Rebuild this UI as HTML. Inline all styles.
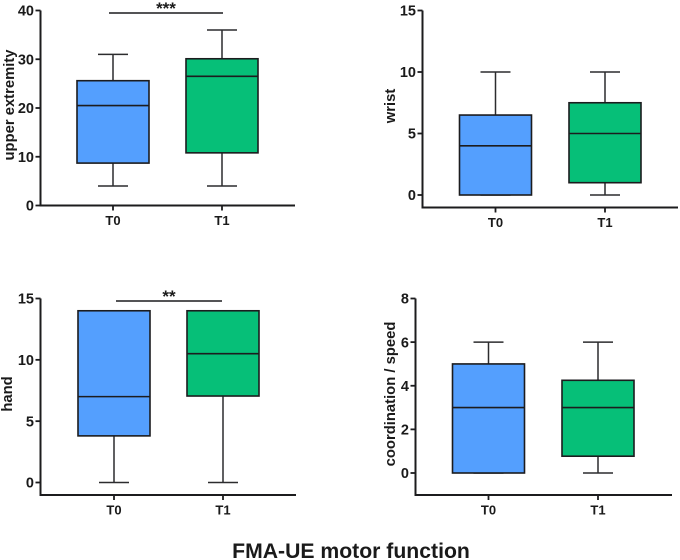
<!DOCTYPE html>
<html lang="en">
<head>
<meta charset="utf-8">
<title>FMA-UE motor function</title>
<style>
html,body{margin:0;padding:0;background:#fff;width:680px;height:560px;overflow:hidden}
svg{display:block;filter:blur(0.35px)}
text{font-family:"Liberation Sans",sans-serif;font-weight:bold;fill:#1a1a1a}
</style>
</head>
<body>
<svg id="chart" width="680" height="560" viewBox="0 0 680 560" xmlns="http://www.w3.org/2000/svg">
<text x="351" y="558" text-anchor="middle" font-size="21.2">FMA-UE motor function</text>
</svg>
<script>
// Each series: [whisker low, Q1, median, Q3, whisker high]
const categories = ['T0', 'T1'];

const upperExtremityT0 = [4, 8.7, 20.5, 25.6, 31];
const upperExtremityT1 = [4, 10.8, 26.5, 30.1, 36];
const upperExtremityTicks = [0, 10, 20, 30, 40];

const wristT0 = [0, 0, 4, 6.5, 10];
const wristT1 = [0, 1, 5, 7.5, 10];
const wristTicks = [0, 5, 10, 15];

const handT0 = [0, 3.8, 7, 14, 14];
const handT1 = [0, 7.05, 10.5, 14, 14];
const handTicks = [0, 5, 10, 15];

const coordinationT0 = [0, 0, 3, 5, 6];
const coordinationT1 = [0, 0.77, 3, 4.25, 6];
const coordinationTicks = [0, 2, 4, 6, 8];

const svg = document.getElementById('chart');
const NS = 'http://www.w3.org/2000/svg';
const INK = '#1c1c1e';
const fills = ['#549ffe', '#06bf78'];

function make(tag, attrs, parent) {
  const el = document.createElementNS(NS, tag);
  for (const k in attrs) el.setAttribute(k, attrs[k]);
  parent.appendChild(el);
  return el;
}

function drawPanel(p) {
  const g = make('g', {}, svg);
  
  

  const tickMax = p.ticks[p.ticks.length - 1];
  const tickMin = p.ticks[0];
  const yScale = v => p.y0 + (v - tickMin) * (p.yTop - p.y0) / (tickMax - tickMin);
  const xScale = i => p.xFirst + i * p.xStep;

  // Boxes and whiskers
  p.series.forEach((s, i) => {
    const cx = xScale(i);
    const [lo, q1, med, q3, hi] = s;
    const stem = make('path', {
      d: `M${cx} ${yScale(lo)}V${yScale(q1)}M${cx} ${yScale(q3)}V${yScale(hi)}` +
         `M${cx - 15} ${yScale(lo)}H${cx + 15}M${cx - 15} ${yScale(hi)}H${cx + 15}`,
      fill: 'none', stroke: '#2c2c2e', 'stroke-width': 1.5
    }, g);
    
    

    const box = make('rect', {
      x: cx - 36, y: yScale(q3), width: 72, height: yScale(q1) - yScale(q3),
      fill: fills[i], stroke: INK, 'stroke-width': 1.6
    }, g);
    
    

    const median = make('line', {
      x1: cx - 36, x2: cx + 36, y1: yScale(med), y2: yScale(med),
      stroke: INK, 'stroke-width': 1.6
    }, g);
    
    
  });

  // Axes
  const yAxis = make('path', {
    d: `M${p.xAxis} ${p.yTop}V${p.yBase}`,
    fill: 'none', stroke: INK, 'stroke-width': 2
  }, g);
  
  

  const xAxis = make('path', {
    d: `M${p.xAxis - 1} ${p.yBase}H${p.xEnd}`,
    fill: 'none', stroke: INK, 'stroke-width': 2
  }, g);
  
  

  p.ticks.forEach(t => {
    const yy = yScale(t);
    const tick = make('line', {
      x1: p.xAxis - 5, x2: p.xAxis, y1: yy, y2: yy, stroke: INK, 'stroke-width': 1.8
    }, g);
    
    

    const lab = make('text', {
      x: p.xAxis - 6.5, y: yy + 5.2, 'text-anchor': 'end', 'font-size': 14.5
    }, g);
    
    
    lab.textContent = t;
  });

  categories.forEach((c, i) => {
    const cx = xScale(i);
    const tick = make('line', {
      x1: cx, x2: cx, y1: p.yBase, y2: p.yBase + 5, stroke: INK, 'stroke-width': 1.8
    }, g);
    
    

    const lab = make('text', {
      x: cx, y: p.yBase + 19.5, 'text-anchor': 'middle', 'font-size': 13
    }, g);
    
    
    lab.textContent = c;
  });

  // Axis title
  const title = make('text', {
    transform: `translate(${p.titleX} ${p.titleY}) rotate(-90)`,
    'text-anchor': 'middle', 'font-size': 14.8
  }, g);
  
  
  title.textContent = p.label;

  // Significance bracket
  if (p.sig) {
    const bar = make('line', {
      x1: p.sig.x1, x2: p.sig.x2, y1: p.sig.y, y2: p.sig.y, stroke: INK, 'stroke-width': 1.6
    }, g);
    
    

    const star = make('text', {
      x: (p.sig.x1 + p.sig.x2) / 2, y: p.sig.y + 1, 'text-anchor': 'middle', 'font-size': 17
    }, g);
    
    
    star.textContent = p.sig.text;
  }
}

drawPanel({
  name: 'upper-extremity', label: 'upper extremity',
  series: [upperExtremityT0, upperExtremityT1], ticks: upperExtremityTicks,
  xAxis: 40.5, xEnd: 295, xFirst: 113, xStep: 109,
  yTop: 10.5, y0: 205.5, yBase: 205.5, titleX: 14, titleY: 105,
  sig: { x1: 109, x2: 223, y: 13, text: '***' }
});
drawPanel({
  name: 'wrist', label: 'wrist',
  series: [wristT0, wristT1], ticks: wristTicks,
  xAxis: 422.5, xEnd: 678, xFirst: 495.5, xStep: 109.5,
  yTop: 10.5, y0: 195, yBase: 207.5, titleX: 395, titleY: 106
});
drawPanel({
  name: 'hand', label: 'hand',
  series: [handT0, handT1], ticks: handTicks,
  xAxis: 40.5, xEnd: 296, xFirst: 114, xStep: 109,
  yTop: 298.5, y0: 482.5, yBase: 495, titleX: 12, titleY: 394,
  sig: { x1: 116, x2: 222, y: 301, text: '**' }
});
drawPanel({
  name: 'coordination-speed', label: 'coordination / speed',
  series: [coordinationT0, coordinationT1], ticks: coordinationTicks,
  xAxis: 415.5, xEnd: 672, xFirst: 488.5, xStep: 109.5,
  yTop: 298.5, y0: 473, yBase: 495, titleX: 395, titleY: 394
});
</script>
</body>
</html>
